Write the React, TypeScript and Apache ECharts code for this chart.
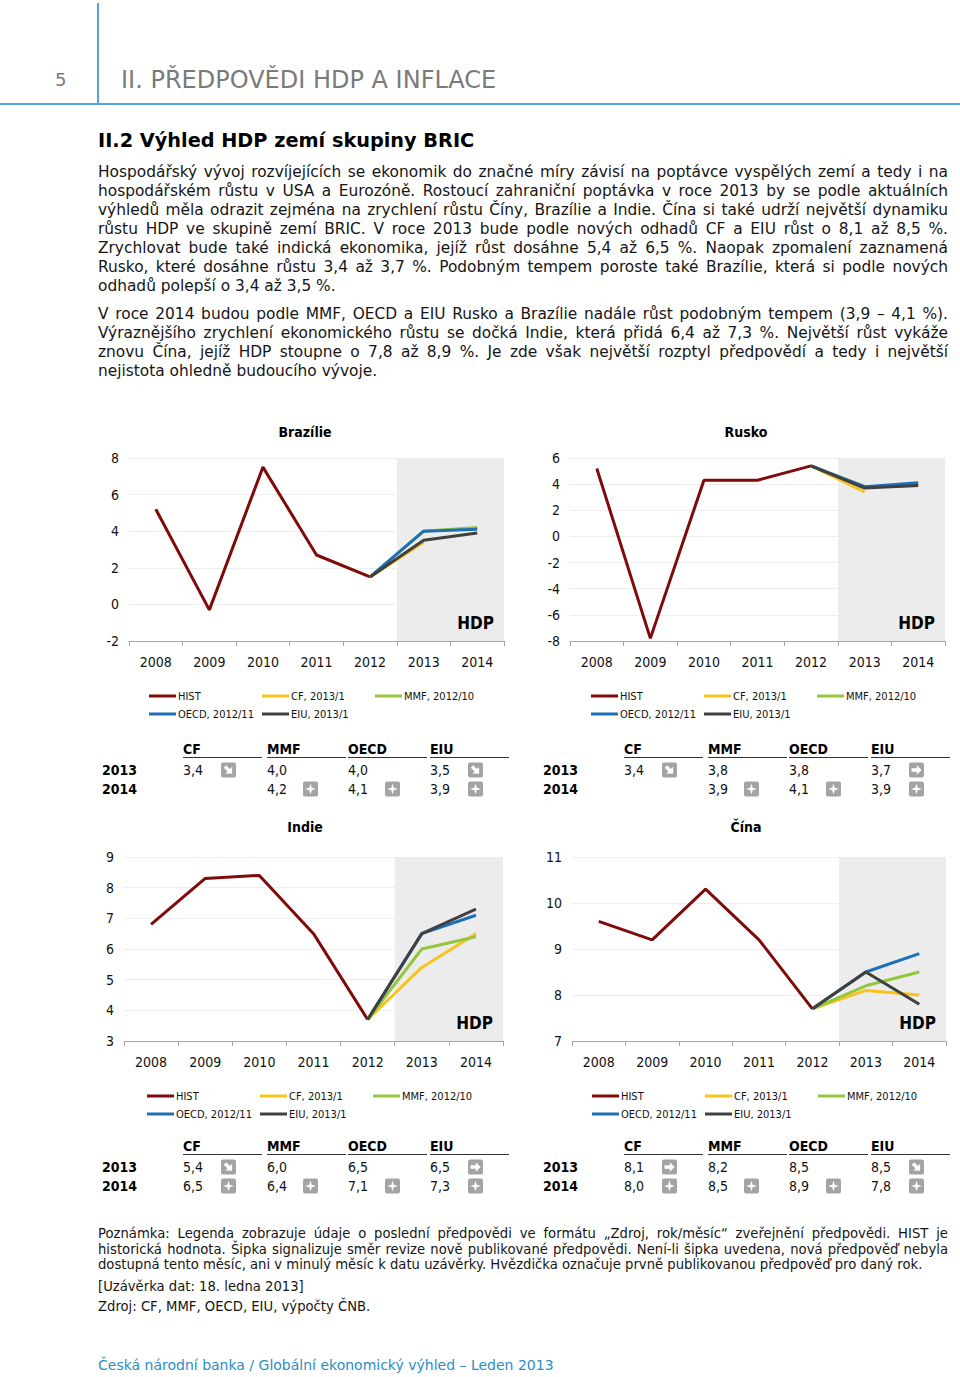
import React, { useEffect, useRef } from "react";
import * as echarts from "echarts";

const FONT = '"DejaVu Sans Condensed", "DejaVu Sans", sans-serif';
const BODY_FONT = '"DejaVu Sans", sans-serif';

// ---------- data ----------
const years = ["2008", "2009", "2010", "2011", "2012", "2013", "2014"];
const seriesNames = ["HIST", "CF, 2013/1", "MMF, 2012/10", "OECD, 2012/11", "EIU, 2013/1"];
const sourceCodes = ["CF", "MMF", "OECD", "EIU"];
const rowYears = ["2013", "2014"];

const brazilHist = [5.2, -0.3, 7.5, 2.7, 1.5];
const brazilCF = [3.4, null];
const brazilMMF = [4.0, 4.2];
const brazilOECD = [4.0, 4.1];
const brazilEIU = [3.5, 3.9];
const brazilRevisions = [["d", "", "", "d"], ["", "s", "s", "s"]];

const russiaHist = [5.2, -7.8, 4.3, 4.3, 5.4];
const russiaCF = [3.4, null];
const russiaMMF = [3.8, 3.9];
const russiaOECD = [3.8, 4.1];
const russiaEIU = [3.7, 3.9];
const russiaRevisions = [["d", "", "", "r"], ["", "s", "s", "s"]];

const indiaHist = [6.8, 8.3, 8.4, 6.5, 3.7];
const indiaCF = [5.4, 6.5];
const indiaMMF = [6.0, 6.4];
const indiaOECD = [6.5, 7.1];
const indiaEIU = [6.5, 7.3];
const indiaRevisions = [["d", "", "", "r"], ["s", "s", "s", "s"]];

const chinaHist = [9.6, 9.2, 10.3, 9.2, 7.7];
const chinaCF = [8.1, 8.0];
const chinaMMF = [8.2, 8.5];
const chinaOECD = [8.5, 8.9];
const chinaEIU = [8.5, 7.8];
const chinaRevisions = [["r", "", "", "d"], ["s", "s", "s", "s"]];

const brazilTicks = { min: -2, max: 8, step: 2 };
const russiaTicks = { min: -8, max: 6, step: 2 };
const indiaTicks = { min: 3, max: 9, step: 1 };
const chinaTicks = { min: 7, max: 11, step: 1 };

const panels = [
  { name: "Brazílie", hist: brazilHist, fc: [brazilCF, brazilMMF, brazilOECD, brazilEIU], rev: brazilRevisions, ticks: brazilTicks },
  { name: "Rusko", hist: russiaHist, fc: [russiaCF, russiaMMF, russiaOECD, russiaEIU], rev: russiaRevisions, ticks: russiaTicks },
  { name: "Indie", hist: indiaHist, fc: [indiaCF, indiaMMF, indiaOECD, indiaEIU], rev: indiaRevisions, ticks: indiaTicks },
  { name: "Čína", hist: chinaHist, fc: [chinaCF, chinaMMF, chinaOECD, chinaEIU], rev: chinaRevisions, ticks: chinaTicks },
];

// ---------- layout / style ----------
const COLORS = ["#7f0a0a", "#f8c31a", "#93c63c", "#1e6fb7", "#404040"];
const layouts = [
  { grid: { left: 129, top: 458, width: 375, height: 183 }, titleX: 305, titleY: 434, legX: 149, legY: 696, tabDX: 0, tabY: 749 },
  { grid: { left: 570, top: 458, width: 375, height: 183 }, titleX: 746, titleY: 434, legX: 591, legY: 696, tabDX: 441, tabY: 749 },
  { grid: { left: 124, top: 857, width: 379, height: 184 }, titleX: 305, titleY: 829, legX: 147, legY: 1096, tabDX: 0, tabY: 1146 },
  { grid: { left: 572, top: 857, width: 374, height: 184 }, titleX: 746, titleY: 829, legX: 592, legY: 1096, tabDX: 441, tabY: 1146 },
];
const colX = [183, 267, 348, 430];
const iconX = [221, 303, 385, 468];
const legendOffsets = [[0, 0], [113, 0], [226, 0], [0, 18], [113, 18]];

const fmt = (v: number | null) => (v == null ? "" : v.toFixed(1).replace(".", ","));

function starPts(cx: number, cy: number) {
  const pts: number[][] = [];
  for (let k = 0; k < 8; k++) {
    const a = (k * Math.PI) / 4 - Math.PI / 2;
    const rr = k % 2 === 0 ? 5.5 : 1.7;
    pts.push([cx + rr * Math.cos(a), cy + rr * Math.sin(a)]);
  }
  return pts;
}
const arrowPts = [[-5, -1.7], [0.3, -1.7], [0.3, -4.8], [5.2, 0], [0.3, 4.8], [0.3, 1.7], [-5, 1.7]];

function iconEls(kind: string, x: number, cy: number): any[] {
  if (!kind) return [];
  const cx = x + 7.5;
  const els: any[] = [
    { type: "rect", shape: { x, y: cy - 7.5, width: 15, height: 15, r: 2 }, style: { fill: "#a3a3a3" } },
  ];
  if (kind === "s") els.push({ type: "polygon", shape: { points: starPts(cx, cy) }, style: { fill: "#fff" } });
  if (kind === "r") els.push({ type: "polygon", x: cx, y: cy, shape: { points: arrowPts }, style: { fill: "#fff" } });
  if (kind === "d")
    els.push({ type: "polygon", x: cx, y: cy, rotation: -Math.PI / 4, shape: { points: arrowPts }, style: { fill: "#fff" } });
  return els;
}

function txt(text: string, x: number, y: number, size: number, bold = false, align = "left", color = "#111"): any {
  return {
    type: "text",
    x,
    y,
    style: { text, fontSize: size, fontWeight: bold ? "bold" : "normal", fontFamily: FONT, fill: color, align, verticalAlign: "middle" },
  };
}

function buildOption() {
  const grid: any[] = [];
  const xAxis: any[] = [];
  const yAxis: any[] = [];
  const series: any[] = [];
  const title: any[] = [];
  const graphic: any[] = [];

  panels.forEach((p, i) => {
    const L = layouts[i];
    grid.push({ ...L.grid, containLabel: false });
    title.push({
      text: p.name,
      left: L.titleX,
      top: L.titleY - 9,
      textAlign: "center",
      padding: 0,
      textStyle: { fontSize: 14, fontWeight: "bold", color: "#000", fontFamily: FONT },
    });
    xAxis.push({
      type: "category",
      gridIndex: i,
      data: years,
      boundaryGap: true,
      axisLine: { onZero: false, lineStyle: { color: "#a6a6a6", width: 1 } },
      axisTick: { show: true, length: 5, lineStyle: { color: "#a6a6a6" } },
      axisLabel: { fontSize: 14, color: "#111", margin: 14, fontFamily: FONT },
      splitLine: { show: false },
    });
    xAxis.push({ type: "value", gridIndex: i, min: -0.5, max: 6.5, show: false });
    yAxis.push({
      type: "value",
      gridIndex: i,
      min: p.ticks.min,
      max: p.ticks.max,
      interval: p.ticks.step,
      axisLine: { show: false },
      axisTick: { show: false },
      axisLabel: { fontSize: 14, color: "#111", margin: 10, fontFamily: FONT },
      splitLine: { show: true, lineStyle: { color: "#eeeeee", width: 1 } },
    });
    // forecast area
    series.push({
      type: "line",
      name: "area" + i,
      xAxisIndex: 2 * i + 1,
      yAxisIndex: i,
      data: [],
      silent: true,
      markArea: {
        silent: true,
        itemStyle: { color: "#ececec" },
        label: {
          show: true,
          position: "insideBottomRight",
          formatter: "HDP",
          fontSize: 17,
          fontWeight: "bold",
          color: "#000",
          fontFamily: FONT,
          distance: 10,
        },
        data: [[{ xAxis: 4.5 }, { xAxis: 6.5 }]],
      },
    });
    const last = p.hist[p.hist.length - 1];
    series.push({
      type: "line",
      name: seriesNames[0],
      xAxisIndex: 2 * i,
      yAxisIndex: i,
      data: [...p.hist, null, null],
      symbol: "none",
      lineStyle: { color: COLORS[0], width: 3 },
      itemStyle: { color: COLORS[0] },
    });
    p.fc.forEach((f, k) => {
      series.push({
        type: "line",
        name: seriesNames[k + 1],
        xAxisIndex: 2 * i,
        yAxisIndex: i,
        data: [null, null, null, null, last, f[0], f[1]],
        symbol: "none",
        lineStyle: { color: COLORS[k + 1], width: 3 },
        itemStyle: { color: COLORS[k + 1] },
      });
    });

    // legend
    seriesNames.forEach((nm, k) => {
      const [dx, dy] = legendOffsets[k];
      const x = L.legX + dx;
      const y = L.legY + dy;
      graphic.push({ type: "line", shape: { x1: x, y1: y, x2: x + 27, y2: y }, style: { stroke: COLORS[k], lineWidth: 3 } });
      graphic.push(txt(nm, x + 29, y, 11, false, "left", "#111"));
    });

    // table
    const dx = L.tabDX;
    const hy = L.tabY;
    sourceCodes.forEach((c, k) => {
      graphic.push(txt(c, colX[k] + dx, hy, 14, true, "left", "#000"));
      graphic.push({
        type: "line",
        shape: { x1: colX[k] + dx, y1: hy + 8.5, x2: colX[k] + dx + 79, y2: hy + 8.5 },
        style: { stroke: "#333", lineWidth: 1 },
      });
    });
    rowYears.forEach((yr, r) => {
      const ry = hy + 21 + r * 19;
      graphic.push(txt(yr, 102 + dx, ry, 14, true, "left", "#000"));
      p.fc.forEach((f, k) => {
        const v = f[r];
        if (v != null) graphic.push(txt(fmt(v), colX[k] + dx, ry, 14, false, "left", "#111"));
        iconEls(p.rev[r][k], iconX[k] + dx, ry).forEach((e) => graphic.push(e));
      });
    });
  });

  return {
    animation: false,
    textStyle: { fontFamily: FONT },
    title,
    grid,
    xAxis,
    yAxis,
    series,
    graphic,
  };
}

// ---------- page text ----------
const para1 = [
  "Hospodářský vývoj rozvíjejících se ekonomik do značné míry závisí na poptávce vyspělých zemí a tedy i na",
  "hospodářském růstu v USA a Eurozóně. Rostoucí zahraniční poptávka v roce 2013 by se podle aktuálních",
  "výhledů měla odrazit zejména na zrychlení růstu Číny, Brazílie a Indie. Čína si také udrží největší dynamiku",
  "růstu HDP ve skupině zemí BRIC. V roce 2013 bude podle nových odhadů CF a EIU růst o 8,1 až 8,5 %.",
  "Zrychlovat bude také indická ekonomika, jejíž růst dosáhne 5,4 až 6,5 %. Naopak zpomalení zaznamená",
  "Rusko, které dosáhne růstu 3,4 až 3,7 %. Podobným tempem poroste také Brazílie, která si podle nových",
  "odhadů polepší o 3,4 až 3,5 %.",
];
const para2 = [
  "V roce 2014 budou podle MMF, OECD a EIU Rusko a Brazílie nadále růst podobným tempem (3,9 – 4,1 %).",
  "Výraznějšího zrychlení ekonomického růstu se dočká Indie, která přidá 6,4 až 7,3 %. Největší růst vykáže",
  "znovu Čína, jejíž HDP stoupne o 7,8 až 8,9 %. Je zde však největší rozptyl předpovědí a tedy i největší",
  "nejistota ohledně budoucího vývoje.",
];
const note = [
  "Poznámka: Legenda zobrazuje údaje o poslední předpovědi ve formátu „Zdroj, rok/měsíc“ zveřejnění předpovědi. HIST je",
  "historická hodnota. Šipka signalizuje směr revize nově publikované předpovědi. Není-li šipka uvedena, nová předpověď nebyla",
  "dostupná tento měsíc, ani v minulý měsíc k datu uzávěrky. Hvězdička označuje prvně publikovanou předpověď pro daný rok.",
];

function Line(props: { text: string; y: number; size: number; justify: boolean; color?: string; bold?: boolean }) {
  return (
    <div
      style={{
        position: "absolute",
        left: 98,
        width: 850,
        top: props.y - 10,
        height: 20,
        lineHeight: "20px",
        fontSize: props.size,
        fontFamily: BODY_FONT,
        fontWeight: props.bold ? "bold" : "normal",
        color: props.color || "#151515",
        textAlign: props.justify ? "justify" : "left",
        textAlignLast: props.justify ? "justify" : "left",
        whiteSpace: "nowrap",
      } as any}
    >
      {props.text}
    </div>
  );
}

export default function App() {
  const ref = useRef<HTMLDivElement>(null);
  useEffect(() => {
    const chart = echarts.init(ref.current!, null, { renderer: "svg" });
    chart.setOption(buildOption());
    return () => chart.dispose();
  }, []);

  return (
    <div
      style={{
        position: "absolute",
        left: 0,
        top: 0,
        width: 960,
        height: 1377,
        background: "#fff",
        overflow: "hidden",
        fontFamily: BODY_FONT,
      }}
    >
      <div ref={ref} style={{ position: "absolute", left: 0, top: 0, width: 960, height: 1377 }} />
      {/* header */}
      <div style={{ position: "absolute", left: 97, top: 3, width: 1.5, height: 101, background: "#55a6d6" }} />
      <div style={{ position: "absolute", left: 0, top: 103, width: 960, height: 1.5, background: "#55a6d6" }} />
      <div style={{ position: "absolute", left: 55, top: 67, fontSize: 18, lineHeight: "26px", color: "#7a7a7a" }}>5</div>
      <div style={{ position: "absolute", left: 121, top: 66, fontSize: 24, lineHeight: "28px", color: "#7a7a7a", whiteSpace: "nowrap" }}>
        II. PŘEDPOVĚDI HDP A INFLACE
      </div>
      <Line text="II.2 Výhled HDP zemí skupiny BRIC" y={141} size={19.3} justify={false} bold color="#000" />
      {para1.map((t, i) => (
        <Line key={"a" + i} text={t} y={172 + i * 19} size={15.4} justify={i < para1.length - 1} />
      ))}
      {para2.map((t, i) => (
        <Line key={"b" + i} text={t} y={314 + i * 19} size={15.4} justify={i < para2.length - 1} />
      ))}
      {note.map((t, i) => (
        <Line key={"n" + i} text={t} y={1234 + i * 15.5} size={13.2} justify={i < note.length - 1} />
      ))}
      <Line text="[Uzávěrka dat: 18. ledna 2013]" y={1287} size={13.2} justify={false} />
      <Line text="Zdroj: CF, MMF, OECD, EIU, výpočty ČNB." y={1307} size={13.2} justify={false} />
      <Line text="Česká národní banka / Globální ekonomický výhled – Leden 2013" y={1365} size={14} justify={false} color="#2a8ec6" />
    </div>
  );
}
